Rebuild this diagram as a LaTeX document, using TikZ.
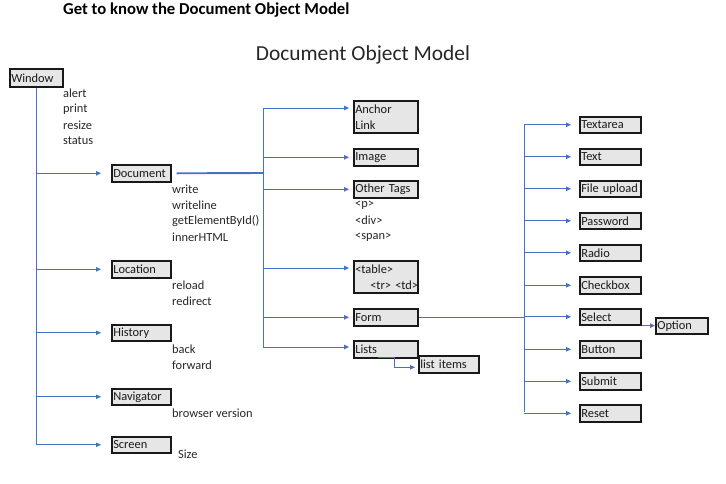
\documentclass[tikz,border=0pt]{standalone}
\usepackage{fontspec}
\setmainfont{Carlito}
\usetikzlibrary{arrows.meta,calc}
\definecolor{lnblue}{HTML}{4472C4}
\definecolor{boxfill}{HTML}{E7E6E6}
\begin{document}
\begin{tikzpicture}[x=1pt,y=-1pt,
  box/.style={draw=black!90, line width=1.6pt, fill=boxfill, anchor=north west,
    inner xsep=1.5pt, inner ysep=0.5pt, align=left, text=black!90,
    font=\fontsize{12.4}{16}\selectfont, minimum height=#1},
  box/.default=17pt,
  lbox/.style={box, text width=56pt},
  mbox/.style={box=#1, text width=61pt},
  mbox/.default=17pt,
  rbox/.style={box, text width=58pt},
  lbl/.style={anchor=west, inner sep=0pt, text=black!85, font=\fontsize{12.4}{14}\selectfont},
  ln/.style={draw=lnblue, line width=1pt},
  arr/.style={ln, -{Triangle[length=5pt,width=4.5pt]}},
]
\useasboundingbox (0,0) rectangle (726,483);
% titles
\node[anchor=west, inner sep=0pt, font=\bfseries\fontsize{16.7}{18}\selectfont] (title) at (63,10) {Get to know the Document Object Model};
\node[inner sep=0pt, font=\fontsize{21.4}{23}\selectfont, text=black!85] (head) at (363,55) {Document Object Model};

% left column
\node[box=18pt, text width=50pt] (win) at (9,68) {Window};
\node[lbl] (w1) at (63,93) {alert};
\node[lbl] (w2) at (63,109) {print};
\node[lbl] (w3) at (63,125) {resize};
\node[lbl] (w4) at (63,141) {status};

\node[lbox] (doc) at (111,164) {Document};
\node[lbl] (d1) at (172,189) {write};
\node[lbl] (d2) at (172,205) {writeline};
\node[lbl] (d3) at (172,221) {getElementById()};
\node[lbl] (d4) at (172,237) {innerHTML};

\node[lbox] (loc) at (111,260) {Location};
\node[lbl] (l1) at (172,285) {reload};
\node[lbl] (l2) at (172,301) {redirect};

\node[lbox, minimum height=16pt] (his) at (111,324) {History};
\node[lbl] (h1) at (172,349) {back};
\node[lbl] (h2) at (172,365) {forward};

\node[lbox, minimum height=16pt] (nav) at (111,388) {Navigator};
\node[lbl] (n1) at (172,413) {browser version};

\node[lbox, minimum height=16pt] (scr) at (111,436) {Screen};
\node[lbl] (s1) at (178,454) {Size};

% middle column
\node[mbox=32pt] (anc) at (353,100) {Anchor\\Link};
\node[mbox] (img) at (353,148) {Image};
\node[mbox] (oth) at (353,180) {Other Tags};
\node[lbl] (o1) at (355,205) {<p>};
\node[lbl] (o2) at (355,220) {<div>};
\node[lbl] (o3) at (355,237) {<span>};
\node[mbox=32pt] (tab) at (353,260) {<table>\\\mbox{\hspace*{15pt}<tr>~<td>}};
\node[mbox] (frm) at (353,308) {Form};
\node[mbox] (lst) at (353,340) {Lists};
\node[box, text width=57pt] (li) at (418,355) {list items};

% right column
\node[rbox, minimum height=16pt] (ta) at (579,116) {Textarea};
\node[rbox, minimum height=16pt] (tx) at (579,148) {Text};
\node[rbox, minimum height=16pt] (fu) at (579,180) {File upload};
\node[rbox, minimum height=16pt] (pw) at (579,212) {Password};
\node[rbox, minimum height=16pt] (ra) at (579,244) {Radio};
\node[rbox] (cb) at (579,276) {Checkbox};
\node[rbox, minimum height=16pt] (se) at (579,308) {Select};
\node[box=16pt, text width=49pt] (op) at (655,317) {Option};
\node[rbox] (bt) at (579,340) {Button};
\node[rbox] (sb) at (579,372) {Submit};
\node[rbox] (rs) at (579,404) {Reset};

% window trunk
\draw[ln] (win.south) -- (win.south |- scr.west);
\foreach \t in {doc,loc,his,nav,scr}
  \draw[arr, shorten >=10pt] (win.south |- \t.west) -- (\t.west);

% document hub
\coordinate (hub) at (263,173);
\coordinate (mtop) at (263,108);
\coordinate (mbot) at (263,347);
\draw[ln, line width=1.9pt] ([xshift=5pt]doc.east) -- (hub);
\draw[ln] (mtop) -- (mbot);
\draw[arr, shorten >=4pt] (mtop) -- ($(anc.north west)+(0,8)$);
\draw[arr, shorten >=4pt] (mtop |- img.west) -- (img.west);
\draw[arr, shorten >=4pt] (mtop |- oth.west) -- (oth.west);
\draw[arr, shorten >=4pt] (mtop |- {$(tab.north west)+(0,8)$}) -- ($(tab.north west)+(0,8)$);
\draw[arr, shorten >=4pt] (mtop |- frm.west) -- (frm.west);
\draw[arr, shorten >=4pt] (mbot) -- (lst.west |- mbot);
\draw[arr, shorten >=3pt] ($(lst.south west)+(25,-1)$) -| ($(li.west)+(-24,3)$) -- ($(li.west)+(0,3)$);

% form trunk
\coordinate (rtop) at (524,124);
\coordinate (rbot) at (524,412);
\draw[ln] (frm.east) -- (rtop |- frm.east);
\draw[ln] (rtop) -- (rbot);
\foreach \t in {ta,tx,fu,pw,ra,cb,se,bt,sb,rs}
  \draw[arr, shorten >=8pt] (rtop |- \t.west) -- (\t.west);
\draw[arr] (se.south east) -- (op.west |- se.south east);
\end{tikzpicture}
\end{document}
